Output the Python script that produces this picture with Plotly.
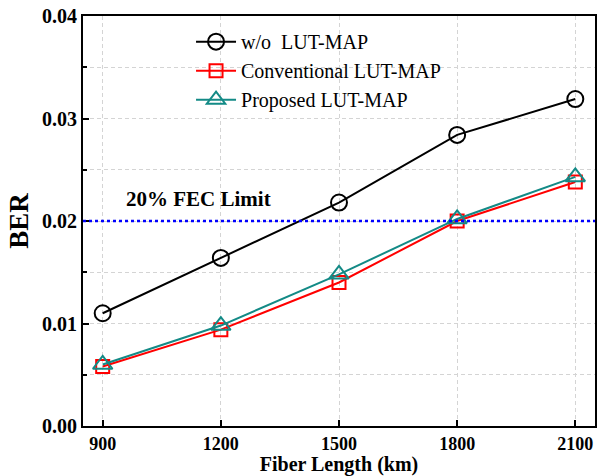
import plotly.graph_objects as go

fiber_length = [900, 1200, 1500, 1800, 2100]
ber_wo = [0.0110, 0.0164, 0.0218, 0.0284, 0.0319]
ber_conv = [0.0058, 0.0094, 0.0140, 0.0200, 0.0238]
ber_prop = [0.0060, 0.0098, 0.0148, 0.0202, 0.0243]
fec_limit = 0.02

font_family = "Liberation Serif, Times New Roman, serif"

fig = go.Figure()
fig.add_trace(go.Scatter(
    x=fiber_length, y=ber_wo, mode="lines+markers", name="w/o  LUT-MAP",
    line=dict(color="black", width=2),
    marker=dict(symbol="circle-open", size=16, color="black", line=dict(width=2))))
fig.add_trace(go.Scatter(
    x=fiber_length, y=ber_conv, mode="lines+markers", name="Conventional LUT-MAP",
    line=dict(color="red", width=2),
    marker=dict(symbol="square-open", size=13, color="red", line=dict(width=2))))
fig.add_trace(go.Scatter(
    x=fiber_length, y=ber_prop, mode="lines+markers", name="Proposed LUT-MAP",
    line=dict(color="#138a86", width=2),
    marker=dict(symbol="triangle-up-open", size=17, color="#138a86", line=dict(width=2))))

fig.add_shape(type="line", xref="paper", x0=0, x1=1, yref="y", y0=fec_limit, y1=fec_limit,
              line=dict(color="blue", width=2.5, dash="dot"))
fig.add_annotation(x=1143, y=fec_limit, yshift=8, xref="x", yref="y", text="<b>20% FEC Limit</b>",
                   showarrow=False, xanchor="center", yanchor="bottom",
                   font=dict(family=font_family, size=21, color="black"))

grid_style = dict(showgrid=True, gridcolor="#d4d4d4", griddash="4px,3px", gridwidth=1)

fig.update_layout(
    width=600, height=476,
    margin=dict(l=83, r=3, t=16, b=50),
    paper_bgcolor="white", plot_bgcolor="white",
    font=dict(family=font_family, color="black"),
    showlegend=True,
    legend=dict(x=0.211, y=0.985, xanchor="left", yanchor="top",
                bgcolor="rgba(0,0,0,0)", font=dict(family=font_family, size=20),
                itemwidth=40, tracegroupgap=0),
    xaxis=dict(range=[850, 2150], tickvals=fiber_length,
               ticktext=[str(v) for v in fiber_length],
               showline=True, linecolor="black", linewidth=2, mirror=True,
               ticks="inside", ticklen=6, tickwidth=2, tickcolor="black",
               zeroline=False, **grid_style,
               tickfont=dict(family=font_family, size=18, color="black", weight="bold"),
               title=dict(text="<b>Fiber Length (km)</b>", standoff=1,
                          font=dict(family=font_family, size=20))),
    yaxis=dict(range=[0, 0.04], tickvals=[0, 0.01, 0.02, 0.03, 0.04],
               ticktext=["0.00", "0.01", "0.02", "0.03", "0.04"],
               showline=True, linecolor="black", linewidth=2, mirror=True,
               ticks="inside", ticklen=6, tickwidth=2, tickcolor="black",
               zeroline=False, **grid_style,
               minor=dict(dtick=0.005, tick0=0, ticks="inside", ticklen=4, tickwidth=1.5,
                          tickcolor="black", showgrid=True, gridcolor="#d4d4d4",
                          griddash="4px,3px"),
               tickfont=dict(family=font_family, size=20, color="black", weight="bold"),
               title=dict(text="<b>BER</b>", standoff=6,
                          font=dict(family=font_family, size=27))),
)

fig.write_html("out.html", config={"displayModeBar": False},
               post_script="document.body.style.margin='0';document.body.style.overflow='hidden';")
